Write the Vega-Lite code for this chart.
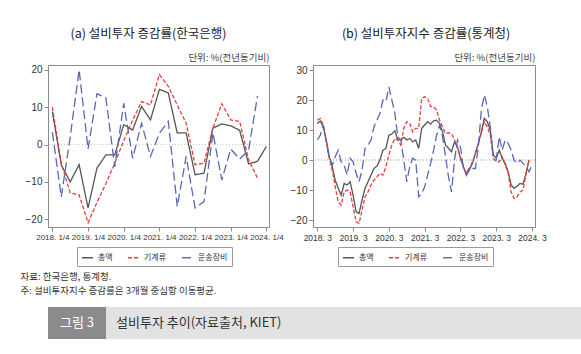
{
  "$schema": "https://vega.github.io/schema/vega-lite/v6.json",
  "background": "white",
  "padding": {"left": 5, "top": 27, "right": 0, "bottom": 0},
  "config": {
    "font": "Noto Sans CJK KR",
    "view": {"stroke": "#8c8c8c", "strokeWidth": 1},
    "axis": {
      "labelFont": "Liberation Sans",
      "labelFontSize": 10,
      "labelColor": "#333333",
      "tickColor": "#8c8c8c",
      "tickSize": 4,
      "domain": false,
      "grid": false,
      "labelOverlap": false,
      "titleFontWeight": "normal"
    },
    "legend": {
      "orient": "none",
      "direction": "horizontal",
      "title": null,
      "strokeColor": "#9a9a9a",
      "padding": 4,
      "symbolType": "stroke",
      "symbolSize": 120,
      "symbolStrokeWidth": 1.4,
      "labelFontSize": 8,
      "labelColor": "#333333",
      "columnPadding": 12,
      "labelOffset": 4,
      "labelFont": "Noto Sans CJK KR"
    },
    "title": {"fontWeight": "normal", "color": "#222222", "font": "Noto Sans CJK KR"}
  },
  "spacing": 11,
  "vconcat": [
    {
      "spacing": 3,
      "title": {
        "text": ["자료: 한국은행, 통계청.", "\u00a0\u00a0\u00a0\u00a0\u00a0주: 설비투자지수 증감률은 3개월 중심항 이동평균."],
        "orient": "bottom",
        "anchor": "start",
        "frame": "bounds",
        "fontSize": 9.5,
        "lineHeight": 14,
        "dx": 15,
        "offset": 5,
        "color": "#333333"
      },
      "resolve": {
        "scale": {"color": "independent", "strokeDash": "independent"},
        "legend": {"color": "independent", "strokeDash": "independent"}
      },
      "hconcat": [
        {
          "width": 221,
          "height": 162,
          "title": {"text": "(a) 설비투자 증감률(한국은행)", "frame": "group", "dx": -10, "fontSize": 12.5, "offset": 12},
          "data": {"values": [
            {"qi": 0, "총액": 8.8, "기계류": 10, "운송장비": 3.3},
            {"qi": 1, "총액": -5.5, "기계류": -5, "운송장비": -14},
            {"qi": 2, "총액": -10, "기계류": -13, "운송장비": 2},
            {"qi": 3, "총액": -5.4, "기계류": -13.5, "운송장비": 20},
            {"qi": 4, "총액": -17, "기계류": -21, "운송장비": -1.2},
            {"qi": 5, "총액": -6.3, "기계류": -15.5, "운송장비": 13.6},
            {"qi": 6, "총액": -2.8, "기계류": -10.5, "운송장비": 12.5},
            {"qi": 7, "총액": -2.8, "기계류": -5, "운송장비": -6},
            {"qi": 8, "총액": 5.3, "기계류": 1, "운송장비": 11},
            {"qi": 9, "총액": 3.9, "기계류": 6.5, "운송장비": -3.7},
            {"qi": 10, "총액": 10.2, "기계류": 11.5, "운송장비": 5.7},
            {"qi": 11, "총액": 6.6, "기계류": 10.6, "운송장비": -3.2},
            {"qi": 12, "총액": 14.8, "기계류": 18.7, "운송장비": 3},
            {"qi": 13, "총액": 13.8, "기계류": 15.6, "운송장비": 6.2},
            {"qi": 14, "총액": 3.1, "기계류": 10.6, "운송장비": -16.6},
            {"qi": 15, "총액": 3.1, "기계류": 5.7, "운송장비": -3.2},
            {"qi": 16, "총액": -8.1, "기계류": -5.4, "운송장비": -17},
            {"qi": 17, "총액": -7.7, "기계류": -5, "운송장비": -15.3},
            {"qi": 18, "총액": 4.4, "기계류": 4.4, "운송장비": 3.1},
            {"qi": 19, "총액": 5.5, "기계류": 10.9, "운송장비": -9.5},
            {"qi": 20, "총액": 5, "기계류": 6.6, "운송장비": -1.2},
            {"qi": 21, "총액": 3.8, "기계류": 6.2, "운송장비": -3.9},
            {"qi": 22, "총액": -5.2, "기계류": -4.1, "운송장비": -1.5},
            {"qi": 23, "총액": -4.5, "기계류": -9, "운송장비": 13},
            {"qi": 24, "총액": -0.5, "기계류": null, "운송장비": null}
          ]},
          "transform": [{"fold": ["총액", "기계류", "운송장비"], "as": ["series", "value"]}],
          "resolve": {"axis": {"x": "independent"}},
          "layer": [
            {
              "mark": {"type": "rule", "color": "#c8c8c8", "strokeDash": [1, 2], "strokeWidth": 1},
              "encoding": {"y": {"datum": 0, "type": "quantitative",
                "axis": {"values": [-20, -10, 0, 10, 20], "title": null, "minExtent": 42, "maxExtent": 42, "labelOverlap": false}}}
            },
            {
              "mark": {"type": "point", "opacity": 0},
              "encoding": {
                "x": {"field": "qi", "type": "quantitative",
                  "axis": {"orient": "top", "labels": false, "ticks": false, "title": "단위: %(전년동기비)", "titleAnchor": "end", "titleFontSize": 9.5, "titleColor": "#444444", "titleFont": "Noto Sans CJK KR", "titlePadding": 3}}
              }
            },
            {
              "mark": {"type": "line", "strokeWidth": 1.3},
              "encoding": {
                "x": {"field": "qi", "type": "quantitative",
                  "scale": {"domain": [-0.49, 24.29], "nice": false, "zero": false},
                  "axis": {"values": [0, 4, 8, 12, 16, 20, 24], "labelExpr": "(2018 + datum.value / 4) + '. 1/4'", "title": null, "labelFlush": false, "labelFontSize": 8, "labelOverlap": false}},
                "y": {"field": "value", "type": "quantitative",
                  "scale": {"domain": [-22.1, 21.3], "nice": false, "zero": false},
                  "axis": {"values": [-20, -10, 0, 10, 20], "title": null, "minExtent": 42, "maxExtent": 42, "labelOverlap": false}},
                "color": {"field": "series", "type": "nominal",
                  "scale": {"domain": ["총액", "기계류", "운송장비"], "range": ["#555555", "#e0413c", "#5868b4"]},
                  "legend": {"legendX": 29, "legendY": 182}},
                "strokeDash": {"field": "series", "type": "nominal",
                  "scale": {"domain": ["총액", "기계류", "운송장비"], "range": [[1, 0], [4, 2], [9, 4]]},
                  "legend": {"legendX": 29, "legendY": 182}}
              }
            }
          ]
        },
        {
          "width": 222,
          "height": 162,
          "title": {"text": "(b) 설비투자지수 증감률(통계청)", "frame": "group", "dx": 2, "fontSize": 12.5, "offset": 12},
          "data": {"values": [
            {"k": 0, "총액": 12.2, "기계류": 13.3, "운송장비": 6.7},
            {"k": 1, "총액": 13, "기계류": 13.9, "운송장비": 8.3},
            {"k": 2, "총액": 11.1, "기계류": 11.7, "운송장비": 11.7},
            {"k": 3, "총액": 6.7, "기계류": 6.1, "운송장비": 6.1},
            {"k": 4, "총액": 1.1, "기계류": 0.6, "운송장비": 1.1},
            {"k": 5, "총액": -2.2, "기계류": -3.3, "운송장비": -1.7},
            {"k": 6, "총액": -6.7, "기계류": -8.9, "운송장비": 1.1},
            {"k": 7, "총액": -9.4, "기계류": -13.9, "운송장비": 3.3},
            {"k": 8, "총액": -11.7, "기계류": -15, "운송장비": -0.6},
            {"k": 9, "총액": -7.8, "기계류": -10.6, "운송장비": -1.7},
            {"k": 10, "총액": -8.3, "기계류": -10, "운송장비": -5},
            {"k": 11, "총액": -7.2, "기계류": -10.6, "운송장비": 0.6},
            {"k": 12, "총액": -11.7, "기계류": -15.6, "운송장비": -0.6},
            {"k": 13, "총액": -17.2, "기계류": -20.6, "운송장비": -4.4},
            {"k": 14, "총액": -17.8, "기계류": -21.1, "운송장비": -7.2},
            {"k": 15, "총액": -13.3, "기계류": -16.7, "운송장비": -3.3},
            {"k": 16, "총액": -9.4, "기계류": -12.2, "운송장비": 3.9},
            {"k": 17, "총액": -7.2, "기계류": -10.6, "운송장비": 5},
            {"k": 18, "총액": -5, "기계류": -8.3, "운송장비": 6.7},
            {"k": 19, "총액": -2.8, "기계류": -6.7, "운송장비": 11.1},
            {"k": 20, "총액": -2, "기계류": -5.6, "운송장비": 13.3},
            {"k": 21, "총액": 0, "기계류": -4.4, "운송장비": 15.6},
            {"k": 22, "총액": 3.3, "기계류": -5, "운송장비": 20},
            {"k": 23, "총액": 3.9, "기계류": -2.2, "운송장비": 19.4},
            {"k": 24, "총액": 8.3, "기계류": 1.7, "운송장비": 24.4},
            {"k": 25, "총액": 8.7, "기계류": 5, "운송장비": 20},
            {"k": 26, "총액": 9.8, "기계류": 7.2, "운송장비": 15.6},
            {"k": 27, "총액": 6.7, "기계류": 6.7, "운송장비": 7.8},
            {"k": 28, "총액": 6.9, "기계류": 5, "운송장비": 6.7},
            {"k": 29, "총액": 7.6, "기계류": 10.6, "운송장비": 0},
            {"k": 30, "총액": 6.7, "기계류": 12.8, "운송장비": -7.2},
            {"k": 31, "총액": 7.2, "기계류": 12.2, "운송장비": -2.2},
            {"k": 32, "총액": 6.1, "기계류": 9.4, "운송장비": 0.6},
            {"k": 33, "총액": 6.7, "기계류": 10.6, "운송장비": 0},
            {"k": 34, "총액": 3.9, "기계류": 10.6, "운송장비": -12.2},
            {"k": 35, "총액": 10.6, "기계류": 20.6, "운송장비": -11.1},
            {"k": 36, "총액": 11.7, "기계류": 21.1, "운송장비": -8.9},
            {"k": 37, "총액": 12.8, "기계류": 20.6, "운송장비": -5},
            {"k": 38, "총액": 12, "기계류": 17.8, "운송장비": -1.1},
            {"k": 39, "총액": 13.1, "기계류": 17.8, "운송장비": 3.3},
            {"k": 40, "총액": 13.3, "기계류": 16.7, "운송장비": 8.3},
            {"k": 41, "총액": 12.2, "기계류": 13.3, "운송장비": 11.7},
            {"k": 42, "총액": 9.4, "기계류": 11.1, "운송장비": 7.8},
            {"k": 43, "총액": 5, "기계류": 8.9, "운송장비": 1.1},
            {"k": 44, "총액": 3.9, "기계류": 9.1, "운송장비": -5.6},
            {"k": 45, "총액": 2.8, "기계류": 8.9, "운송장비": -10.6},
            {"k": 46, "총액": 6.1, "기계류": 6.7, "운송장비": 0},
            {"k": 47, "총액": 4.4, "기계류": 3.9, "운송장비": 6.7},
            {"k": 48, "총액": 0.6, "기계류": 1.1, "운송장비": 4.4},
            {"k": 49, "총액": -2.2, "기계류": -2.2, "운송장비": -2.8},
            {"k": 50, "총액": -5, "기계류": -5, "운송장비": -4.4},
            {"k": 51, "총액": -3.3, "기계류": -2.8, "운송장비": -2.4},
            {"k": 52, "총액": -1.1, "기계류": -0.6, "운송장비": -2.8},
            {"k": 53, "총액": 2.2, "기계류": 2.2, "운송장비": -2.8},
            {"k": 54, "총액": 5.6, "기계류": 5.6, "운송장비": 4.4},
            {"k": 55, "총액": 9.4, "기계류": 8.9, "운송장비": 16.7},
            {"k": 56, "총액": 13.9, "기계류": 12.8, "운송장비": 21.7},
            {"k": 57, "총액": 12.8, "기계류": 11.1, "운송장비": 17.8},
            {"k": 58, "총액": 10, "기계류": 8.3, "운송장비": 11.1},
            {"k": 59, "총액": 1.7, "기계류": 0.6, "운송장비": 1.1},
            {"k": 60, "총액": 0.6, "기계류": -0.6, "운송장비": 0},
            {"k": 61, "총액": 3.3, "기계류": -0.6, "운송장비": 7.8},
            {"k": 62, "총액": 0.6, "기계류": 1.1, "운송장비": 3.3},
            {"k": 63, "총액": -1.1, "기계류": -1.7, "운송장비": 6.7},
            {"k": 64, "총액": -3.9, "기계류": -4.4, "운송장비": 5.6},
            {"k": 65, "총액": -8.3, "기계류": -10.6, "운송장비": 3.3},
            {"k": 66, "총액": -9.4, "기계류": -12.8, "운송장비": 0},
            {"k": 67, "총액": -8.7, "기계류": -12.2, "운송장비": -1.1},
            {"k": 68, "총액": -7.8, "기계류": -10.6, "운송장비": 0},
            {"k": 69, "총액": -8, "기계류": -10, "운송장비": -1.1},
            {"k": 70, "총액": -4.4, "기계류": -4.4, "운송장비": -2.2},
            {"k": 71, "총액": 0, "기계류": 0, "운송장비": -3.9},
            {"k": 72, "총액": null, "기계류": null, "운송장비": -1.7}
          ]},
          "transform": [{"fold": ["총액", "기계류", "운송장비"], "as": ["series", "value"]}],
          "resolve": {"axis": {"x": "independent"}},
          "layer": [
            {
              "mark": {"type": "rule", "color": "#c8c8c8", "strokeDash": [1, 2], "strokeWidth": 1},
              "encoding": {"y": {"datum": 0, "type": "quantitative",
                "axis": {"values": [-20, -10, 0, 10, 20, 30], "title": null, "minExtent": 25, "maxExtent": 25, "labelOverlap": false}}}
            },
            {
              "mark": {"type": "point", "opacity": 0},
              "encoding": {
                "x": {"field": "k", "type": "quantitative",
                  "axis": {"orient": "top", "labels": false, "ticks": false, "title": "단위: %(전년동기비)", "titleAnchor": "end", "titleFontSize": 9.5, "titleColor": "#444444", "titleFont": "Noto Sans CJK KR", "titlePadding": 3}}
              }
            },
            {
              "mark": {"type": "line", "strokeWidth": 1.3},
              "encoding": {
                "x": {"field": "k", "type": "quantitative",
                  "scale": {"domain": [-1.45, 73.0], "nice": false, "zero": false},
                  "axis": {"values": [0, 12, 24, 36, 48, 60, 72], "labelExpr": "(2018 + datum.value / 12) + '. 3'", "title": null, "labelFlush": false, "labelFontSize": 8.5, "labelOverlap": false}},
                "y": {"field": "value", "type": "quantitative",
                  "scale": {"domain": [-22.3, 31.7], "nice": false, "zero": false},
                  "axis": {"values": [-20, -10, 0, 10, 20, 30], "title": null, "minExtent": 25, "maxExtent": 25, "labelOverlap": false}},
                "color": {"field": "series", "type": "nominal",
                  "scale": {"domain": ["총액", "기계류", "운송장비"], "range": ["#555555", "#e0413c", "#5868b4"]},
                  "legend": {"legendX": 25, "legendY": 182}},
                "strokeDash": {"field": "series", "type": "nominal",
                  "scale": {"domain": ["총액", "기계류", "운송장비"], "range": [[1, 0], [4, 2], [9, 4]]},
                  "legend": {"legendX": 25, "legendY": 182}}
              }
            }
          ]
        }
      ]
    },
    {
      "spacing": 0,
      "hconcat": [
        {
          "width": 58,
          "height": 32,
          "view": {"fill": "#8b8b8b", "stroke": null},
          "data": {"values": [{"label": "그림 3"}]},
          "mark": {"type": "text", "color": "white", "fontSize": 13, "font": "Noto Sans CJK KR"},
          "encoding": {"text": {"field": "label", "type": "nominal"}}
        },
        {
          "width": 512,
          "height": 32,
          "view": {"fill": "#e2e2e2", "stroke": null},
          "data": {"values": [{"label": "설비투자 추이(자료출처, KIET)"}]},
          "mark": {"type": "text", "color": "#333333", "fontSize": 13, "align": "left", "dx": 10, "font": "Noto Sans CJK KR"},
          "encoding": {
            "text": {"field": "label", "type": "nominal"},
            "x": {"datum": 0, "type": "quantitative", "scale": {"domain": [0, 1]}, "axis": null}
          }
        }
      ]
    }
  ]
}
